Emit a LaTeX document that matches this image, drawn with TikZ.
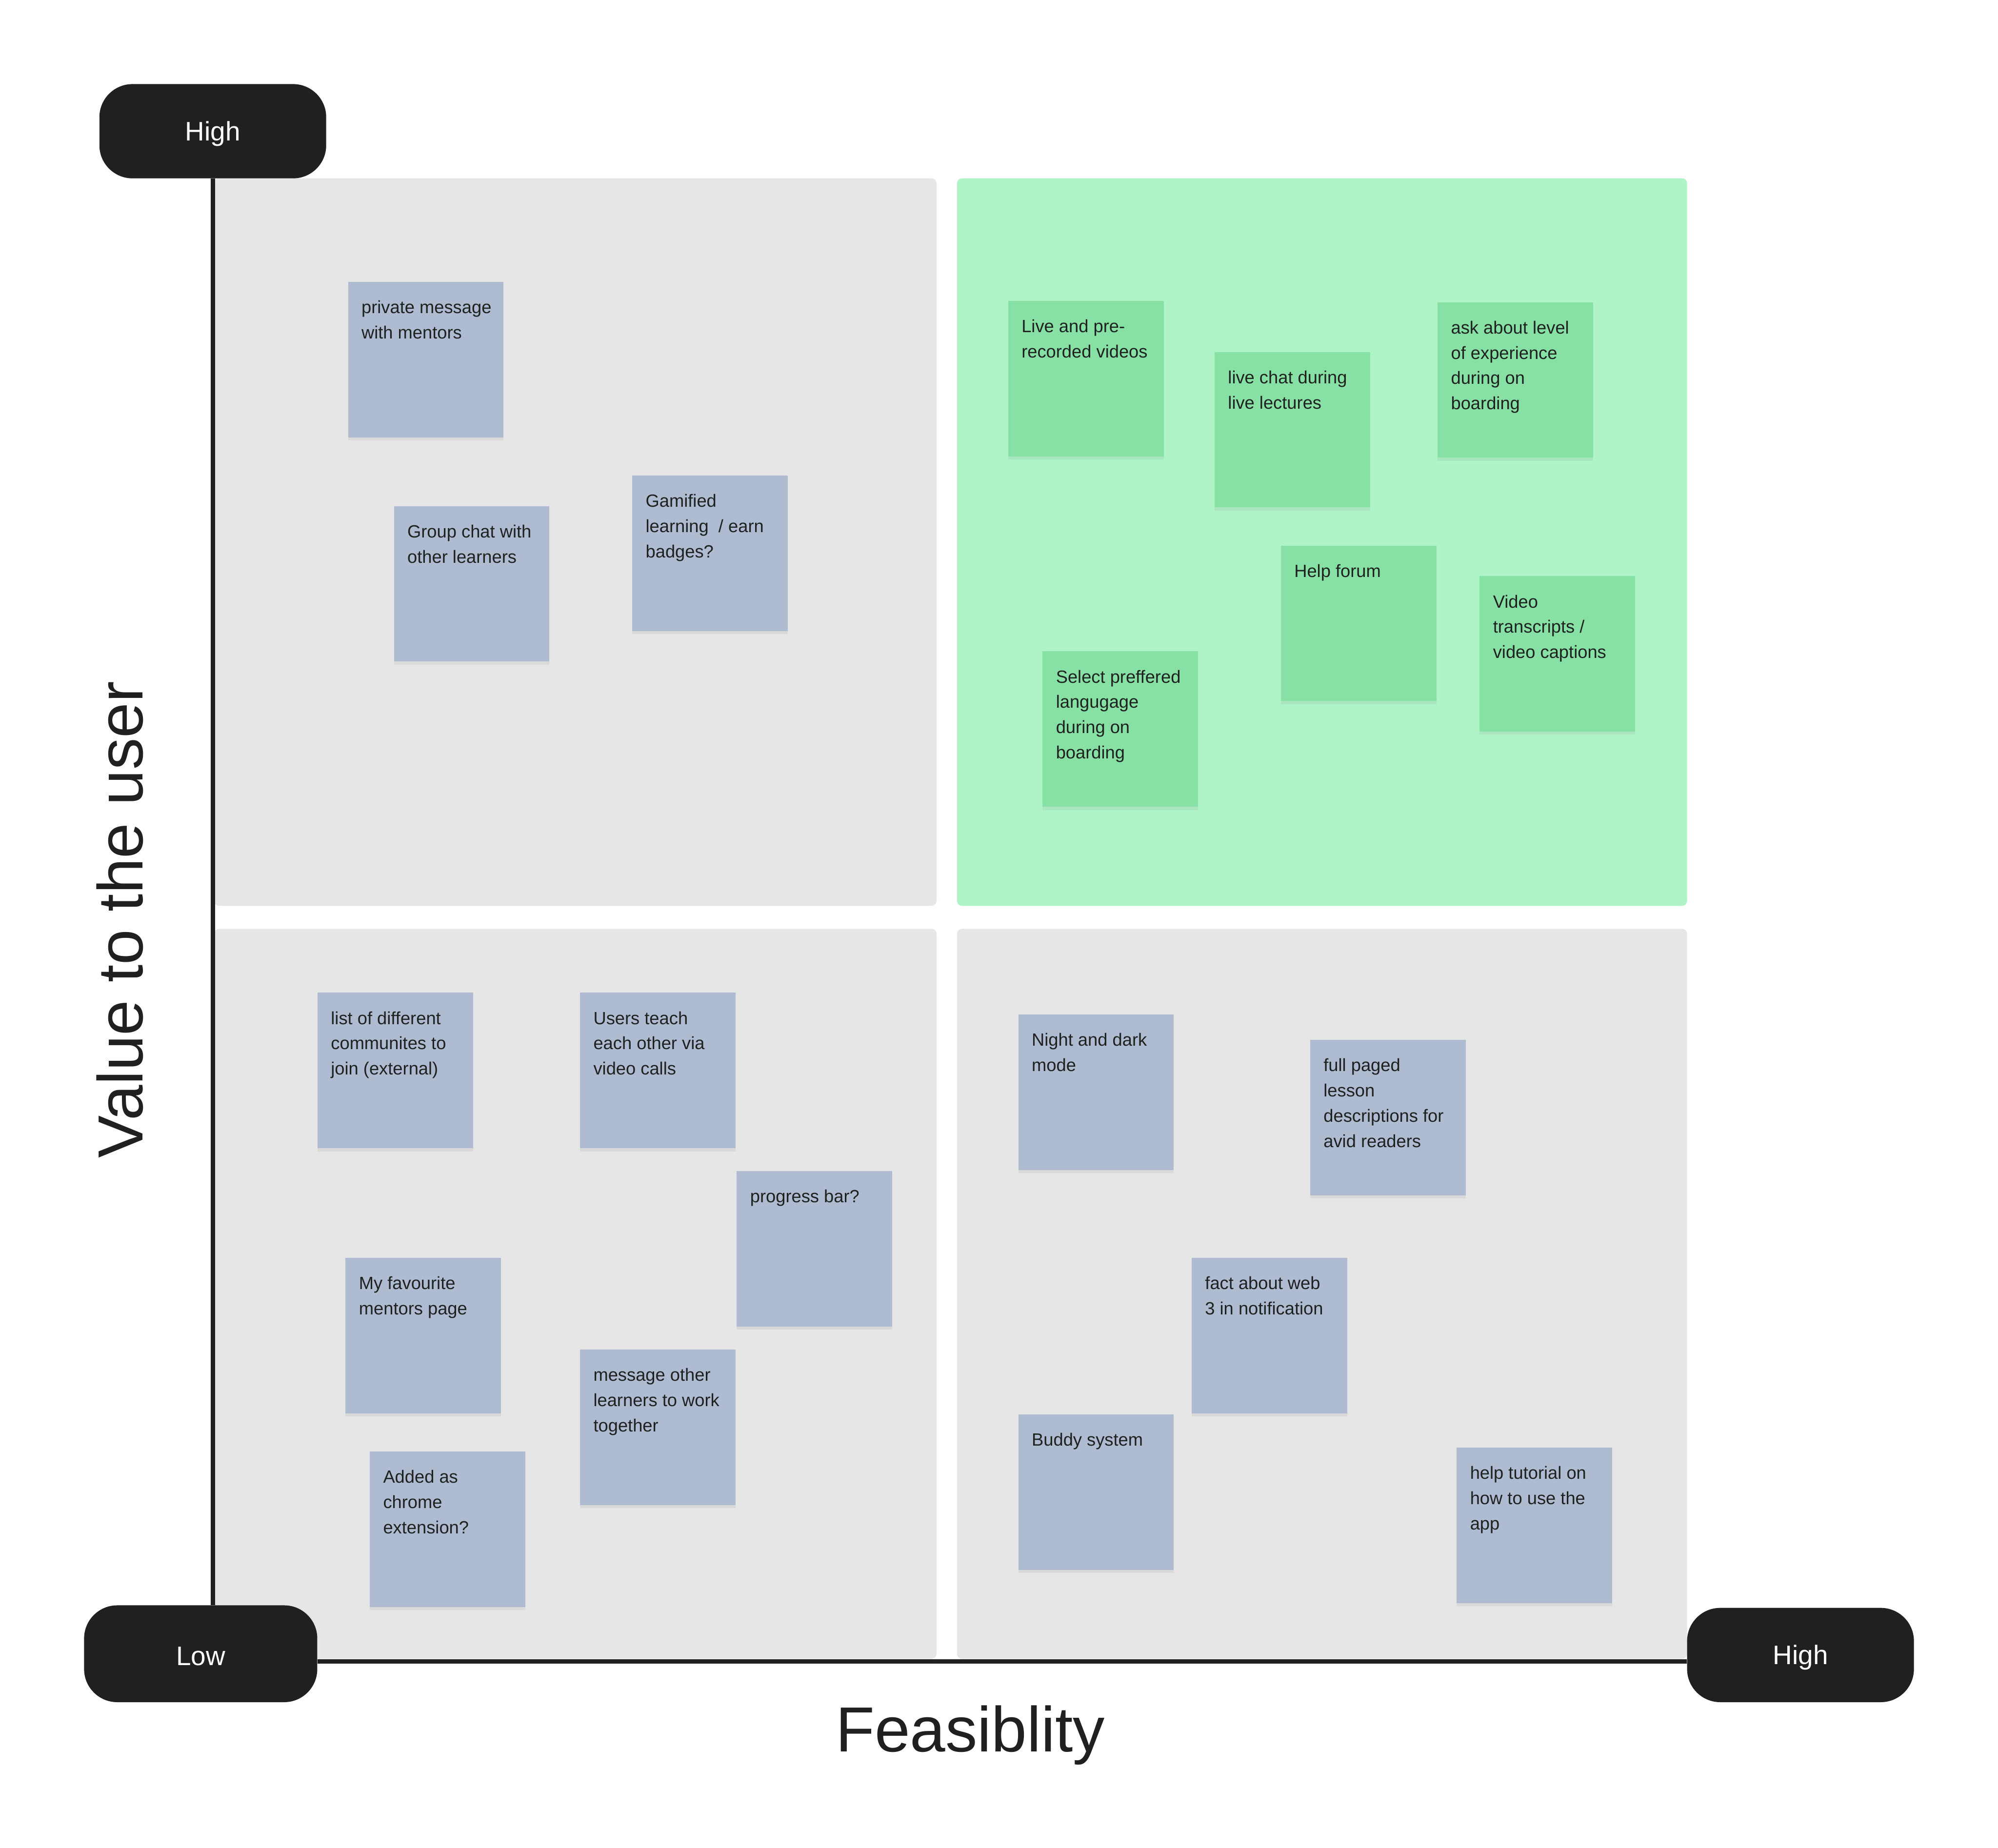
\documentclass[tikz,border=0pt]{standalone}
\usepackage{fontspec}
\setmainfont{Liberation Sans}
\usetikzlibrary{shadows}
\definecolor{ink}{HTML}{1F2120}
\definecolor{quadgrey}{HTML}{E6E6E6}
\definecolor{quadgreen}{HTML}{AFF4C7}
\definecolor{notegreen}{HTML}{87E1A4}
\definecolor{noteblue}{HTML}{AEBBD0}
\newcommand{\ntl}[1]{\begin{tabular}[t]{@{}l@{}}#1\end{tabular}}
\newcommand{\pilltext}[1]{\raisebox{-2pt}[\height][\depth]{#1}}
\begin{document}
\begin{tikzpicture}[x=1pt,y=-1pt,
 quad/.style={rounded corners=4pt},
 pill/.style={fill=ink, text=white, rounded corners=26pt, minimum width=178pt, minimum height=74pt, font=\fontsize{21}{25}\selectfont, inner sep=0pt},
 note/.style={anchor=north west, minimum width=122pt, minimum height=122pt, inner sep=0pt, drop shadow={shadow xshift=0pt, shadow yshift=-2.5pt, opacity=0.12}},
 bluenote/.style={note, fill=noteblue},
 greennote/.style={note, fill=notegreen},
 notetext/.style={anchor=base west, inner sep=0pt, text=ink, font=\fontsize{13.9}{19.8}\selectfont},
 axis/.style={draw=ink, line width=3.6pt},
 axistitle/.style={text=ink, font=\fontsize{50}{60}\selectfont, inner sep=0pt}
]
\useasboundingbox[fill=white] (0,0) rectangle (1568,1450.1);

% quadrants
\fill[quad, quadgrey]  (168,140) rectangle (735,711);
\fill[quad, quadgreen] (751,140) rectangle (1324,711);
\fill[quad, quadgrey]  (168,729) rectangle (735,1302);
\fill[quad, quadgrey]  (751,729) rectangle (1324,1302);

% axis pills
\node[pill] (vhigh) at (167,103) {\pilltext{High}};
\node[pill, minimum width=183pt, minimum height=76pt] (vlow) at (157.5,1298) {\pilltext{Low}};
\node[pill] (hhigh) at (1413,1299) {\pilltext{High}};
\coordinate (axy) at (0,1304);

% axes
\draw[axis] (vhigh.south) -- (vhigh.south |- vlow.north);
\draw[axis] (vlow.east |- axy) -- (hhigh.west |- axy);

% axis titles
\node[axistitle, rotate=90, anchor=base] (ytitle) at (112,722) {Value to the user};
\node[axistitle, anchor=base] (xtitle) at (761.5,1375) {Feasiblity};

% top-left quadrant
\node[bluenote] (n1) at (273,221) {};
\node[notetext] (n1t) at ([shift={(10.5pt,-25pt)}]n1.north west) {\ntl{private message\\with mentors}};
\node[bluenote] (n2) at (309,397) {};
\node[notetext] (n2t) at ([shift={(10.5pt,-25pt)}]n2.north west) {\ntl{Group chat with\\other learners}};
\node[bluenote] (n3) at (496,373) {};
\node[notetext] (n3t) at ([shift={(10.5pt,-25pt)}]n3.north west) {\ntl{Gamified\\learning \ / earn\\badges?}};

% top-right quadrant
\node[greennote] (n4) at (791,236) {};
\node[notetext] (n4t) at ([shift={(10.5pt,-25pt)}]n4.north west) {\ntl{Live and pre-\\recorded videos}};
\node[greennote] (n5) at (953,276) {};
\node[notetext] (n5t) at ([shift={(10.5pt,-25pt)}]n5.north west) {\ntl{live chat during\\live lectures}};
\node[greennote] (n6) at (1128,237) {};
\node[notetext] (n6t) at ([shift={(10.5pt,-25pt)}]n6.north west) {\ntl{ask about level\\of experience\\during on\\boarding}};
\node[greennote] (n7) at (1005,428) {};
\node[notetext] (n7t) at ([shift={(10.5pt,-25pt)}]n7.north west) {\ntl{Help forum}};
\node[greennote] (n8) at (1161,452) {};
\node[notetext] (n8t) at ([shift={(10.5pt,-25pt)}]n8.north west) {\ntl{Video\\transcripts /\\video captions}};
\node[greennote] (n9) at (818,511) {};
\node[notetext] (n9t) at ([shift={(10.5pt,-25pt)}]n9.north west) {\ntl{Select preffered\\langugage\\during on\\boarding}};

% bottom-left quadrant
\node[bluenote] (n10) at (249,779) {};
\node[notetext] (n10t) at ([shift={(10.5pt,-25pt)}]n10.north west) {\ntl{list of different\\communites to\\join (external)}};
\node[bluenote] (n11) at (455,779) {};
\node[notetext] (n11t) at ([shift={(10.5pt,-25pt)}]n11.north west) {\ntl{Users teach\\each other via\\video calls}};
\node[bluenote] (n12) at (578,919) {};
\node[notetext] (n12t) at ([shift={(10.5pt,-25pt)}]n12.north west) {\ntl{progress bar?}};
\node[bluenote] (n13) at (271,987) {};
\node[notetext] (n13t) at ([shift={(10.5pt,-25pt)}]n13.north west) {\ntl{My favourite\\mentors page}};
\node[bluenote] (n14) at (455,1059) {};
\node[notetext] (n14t) at ([shift={(10.5pt,-25pt)}]n14.north west) {\ntl{message other\\learners to work\\together}};
\node[bluenote] (n15) at (290,1139) {};
\node[notetext] (n15t) at ([shift={(10.5pt,-25pt)}]n15.north west) {\ntl{Added as\\chrome\\extension?}};

% bottom-right quadrant
\node[bluenote] (n16) at (799,796) {};
\node[notetext] (n16t) at ([shift={(10.5pt,-25pt)}]n16.north west) {\ntl{Night and dark\\mode}};
\node[bluenote] (n17) at (1028,816) {};
\node[notetext] (n17t) at ([shift={(10.5pt,-25pt)}]n17.north west) {\ntl{full paged\\lesson\\descriptions for\\avid readers}};
\node[bluenote] (n18) at (935,987) {};
\node[notetext] (n18t) at ([shift={(10.5pt,-25pt)}]n18.north west) {\ntl{fact about web\\3 in notification}};
\node[bluenote] (n19) at (799,1110) {};
\node[notetext] (n19t) at ([shift={(10.5pt,-25pt)}]n19.north west) {\ntl{Buddy system}};
\node[bluenote] (n20) at (1143,1136) {};
\node[notetext] (n20t) at ([shift={(10.5pt,-25pt)}]n20.north west) {\ntl{help tutorial on\\how to use the\\app}};
\end{tikzpicture}
\end{document}
